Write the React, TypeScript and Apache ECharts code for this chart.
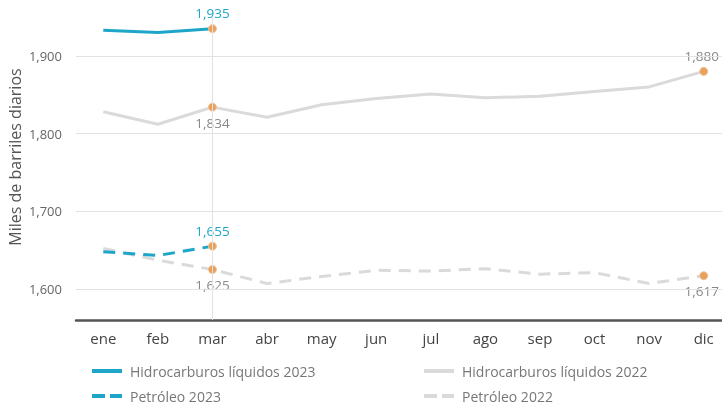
import React, { useEffect, useRef } from "react";
import * as echarts from "echarts";

const months = ["ene", "feb", "mar", "abr", "may", "jun", "jul", "ago", "sep", "oct", "nov", "dic"];
const hidro2023 = [1933, 1930, 1935];
const hidro2022 = [1828, 1812, 1834, 1821, 1837, 1845, 1851, 1846, 1848, 1854, 1860, 1880];
const petro2023 = [1648, 1643, 1655];
const petro2022 = [1652, 1637, 1625, 1607, 1616, 1624, 1623, 1626, 1619, 1621, 1607, 1617];
const gridValues = [1600, 1700, 1800, 1900];
const highlights: Record<string, { idx: number; pos: string }[]> = {
  h23: [{ idx: 2, pos: "top" }],
  h22: [{ idx: 2, pos: "bottom" }, { idx: 11, pos: "top" }],
  p23: [{ idx: 2, pos: "top" }],
  p22: [{ idx: 2, pos: "bottom" }, { idx: 11, pos: "bottom" }],
};

const TEAL = "#1ea6c8";
const GRAY = "#dadada";
const ORANGE = "#e8a05c";
const FONT = "Open Sans";
const SOLID_ICON = "path://M0,0h30v4h-30z";
const DASH_ICON = "path://M0,0h13v4h-13z M18,0h12v4h-12z";

const fmt = (v: number) => v.toLocaleString("en-US");

function build(values: number[], key: string, labelColor: string) {
  return values.map((v, i) => {
    const h = highlights[key].find((x) => x.idx === i);
    if (!h) return v;
    return {
      value: v,
      symbol: "circle",
      symbolSize: 8,
      itemStyle: { color: ORANGE, borderColor: "#f0c090", borderWidth: 1 },
      label: {
        show: true,
        position: h.pos,
        distance: 4,
        offset: i === 11 ? [-2, 0] : [0, 0],
        color: labelColor,
        fontFamily: FONT,
        fontSize: 13.5,
        formatter: () => fmt(v),
      },
    };
  });
}

function legendItem(name: string, left: number, top: number, icon: string, color: string) {
  return {
    show: true,
    left,
    top,
    orient: "horizontal",
    itemWidth: 30,
    itemHeight: 4,
    itemGap: 10,
    padding: 0,
    icon,
    itemStyle: { color },
    textStyle: { color: "#777", fontSize: 14, fontFamily: FONT, padding: [0, 0, 0, 3] },
    data: [{ name, icon, itemStyle: { color } }],
  };
}

export default function App() {
  const ref = useRef<HTMLDivElement>(null);
  useEffect(() => {
    const chart = echarts.init(ref.current!, null, { renderer: "svg" });
    chart.setOption({
      animation: false,
      textStyle: { fontFamily: FONT },
      grid: { left: 76, right: 0, top: 17, bottom: 87, outerBoundsMode: "none", containLabel: false },
      graphic: [
        {
          type: "text",
          x: 7,
          y: 157,
          rotation: Math.PI / 2,
          style: {
            text: "Miles de barriles diarios",
            fontFamily: FONT,
            fontSize: 16,
            fill: "#555",
            align: "center",
            verticalAlign: "top",
          },
        },
      ],
      legend: [
        legendItem("Hidrocarburos líquidos 2023", 92, 364, SOLID_ICON, TEAL),
        legendItem("Petróleo 2023", 92, 389, DASH_ICON, TEAL),
        legendItem("Hidrocarburos líquidos 2022", 424, 364, SOLID_ICON, GRAY),
        legendItem("Petróleo 2022", 424, 389, DASH_ICON, GRAY),
      ],
      xAxis: {
        type: "category",
        data: months,
        boundaryGap: true,
        axisLine: { lineStyle: { color: "#555", width: 2.5 } },
        axisTick: { show: false },
        axisLabel: { color: "#444", fontSize: 15, margin: 10, fontFamily: FONT },
      },
      yAxis: {
        type: "value",
        min: 1560,
        max: 1950,
        interval: 20,
        splitLine: { show: false },
        axisLine: { show: false },
        axisTick: { show: false },
        axisLabel: {
          color: "#666",
          fontSize: 13,
          margin: 14,
          fontFamily: FONT,
          formatter: (v: number) => (v % 100 === 0 ? fmt(v) : ""),
        },
      },
      series: [
        {
          name: "Hidrocarburos líquidos 2022",
          type: "line",
          data: build(hidro2022, "h22", "#888"),
          symbol: "none",
          color: GRAY,
          lineStyle: { color: GRAY, width: 3 },
          z: 2,
          markLine: {
            silent: true,
            symbol: "none",
            label: { show: false },
            lineStyle: { color: "#e2e2e2", width: 1, type: "solid" },
            data: [...gridValues.map((g) => ({ yAxis: g })), { xAxis: "mar" }],
          },
        },
        {
          name: "Petróleo 2022",
          type: "line",
          data: build(petro2022, "p22", "#888"),
          symbol: "none",
          color: GRAY,
          lineStyle: { color: GRAY, width: 3, type: [12, 8] },
          z: 2,
        },
        {
          name: "Hidrocarburos líquidos 2023",
          type: "line",
          data: build(hidro2023, "h23", TEAL),
          symbol: "none",
          color: TEAL,
          lineStyle: { color: TEAL, width: 3 },
          z: 3,
        },
        {
          name: "Petróleo 2023",
          type: "line",
          data: build(petro2023, "p23", TEAL),
          symbol: "none",
          color: TEAL,
          lineStyle: { color: TEAL, width: 3, type: [12, 8] },
          z: 3,
        },
      ],
    });
    return () => chart.dispose();
  }, []);
  return (
    <div style={{ position: "fixed", left: 0, top: 0, width: 722, height: 407, overflow: "hidden" }}>
      <div ref={ref} style={{ width: 731, height: 407 }} />
    </div>
  );
}
